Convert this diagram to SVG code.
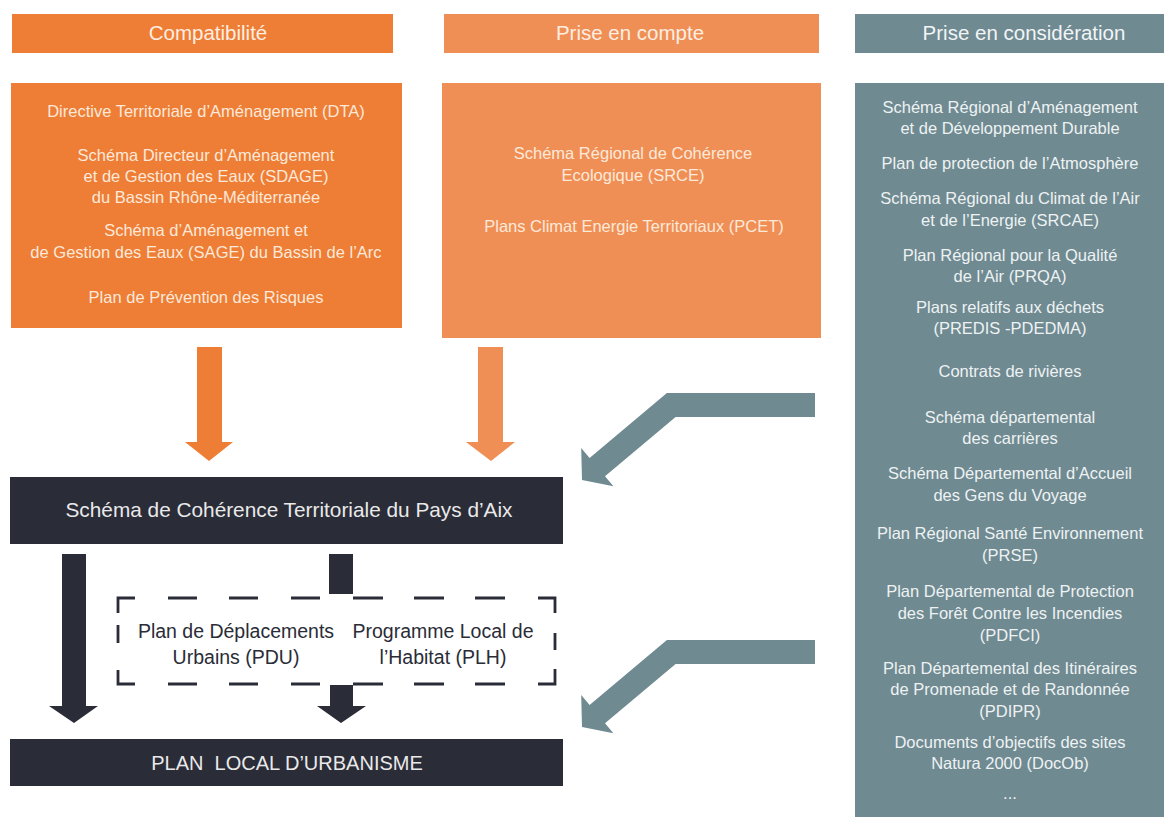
<svg xmlns="http://www.w3.org/2000/svg" width="1164" height="821" viewBox="0 0 1164 821">
<style>
text{font-family:"Liberation Sans",Arial,sans-serif;text-anchor:middle}
.o1{fill:#ee7d35}
.o2{fill:#f08f55}
.gr{fill:#6f8a91}
.dk{fill:#2a2c37}
.hd{font-size:20.5px;fill:#fdeee2}
.hdg{font-size:20.5px;fill:#f2f5f6}
.bt{font-size:16.5px;fill:#fde9da}
.gt{font-size:16.5px;fill:#eef2f3}
.dt{font-size:20.8px;fill:#e9e9ea}
.pl{font-size:20px;fill:#e9e9ea}
.pt{font-size:19.5px;fill:#2a2c37}
.dash{stroke:#2a2c37;stroke-width:2.8;fill:none}
</style>
<rect width="1164" height="821" fill="#ffffff"/>

<g id="hdr-compat">
<rect class="o1" x="12" y="14" width="381" height="39"/>
<text class="hd" x="208" y="40">Compatibilité</text>
</g>
<g id="hdr-prise">
<rect class="o2" x="444" y="14" width="375" height="39"/>
<text class="hd" x="630" y="40">Prise en compte</text>
</g>
<g id="hdr-consid">
<rect class="gr" x="855" y="14" width="309" height="39"/>
<text class="hdg" x="1024" y="40">Prise en considération</text>
</g>

<g id="box-compat">
<rect class="o1" x="11" y="83" width="391" height="245"/>
<text class="bt" x="206" y="117">Directive Territoriale d’Aménagement (DTA)</text>
<text class="bt" x="206" y="161">Schéma Directeur d’Aménagement</text>
<text class="bt" x="206" y="182">et de Gestion des Eaux (SDAGE)</text>
<text class="bt" x="206" y="203">du Bassin Rhône-Méditerranée</text>
<text class="bt" x="206" y="236">Schéma d’Aménagement et</text>
<text class="bt" x="206" y="258">de Gestion des Eaux (SAGE) du Bassin de l’Arc</text>
<text class="bt" x="206" y="303">Plan de Prévention des Risques</text>
</g>

<g id="box-prise">
<rect class="o2" x="442" y="83" width="379" height="255"/>
<text class="bt" x="633" y="159">Schéma Régional de Cohérence</text>
<text class="bt" x="633" y="181">Ecologique (SRCE)</text>
<text class="bt" x="634" y="232">Plans Climat Energie Territoriaux (PCET)</text>
</g>

<g id="box-consid">
<rect class="gr" x="855" y="83" width="309" height="734"/>
<text class="gt" x="1010" y="113">Schéma Régional d’Aménagement</text>
<text class="gt" x="1010" y="134">et de Développement Durable</text>
<text class="gt" x="1010" y="169">Plan de protection de l’Atmosphère</text>
<text class="gt" x="1010" y="204">Schéma Régional du Climat de l’Air</text>
<text class="gt" x="1010" y="226">et de l’Energie (SRCAE)</text>
<text class="gt" x="1010" y="261">Plan Régional pour la Qualité</text>
<text class="gt" x="1010" y="282">de l’Air (PRQA)</text>
<text class="gt" x="1010" y="313">Plans relatifs aux déchets</text>
<text class="gt" x="1010" y="334">(PREDIS -PDEDMA)</text>
<text class="gt" x="1010" y="377">Contrats de rivières</text>
<text class="gt" x="1010" y="423">Schéma départemental</text>
<text class="gt" x="1010" y="444">des carrières</text>
<text class="gt" x="1010" y="479">Schéma Départemental d’Accueil</text>
<text class="gt" x="1010" y="501">des Gens du Voyage</text>
<text class="gt" x="1010" y="539">Plan Régional Santé Environnement</text>
<text class="gt" x="1010" y="561">(PRSE)</text>
<text class="gt" x="1010" y="597">Plan Départemental de Protection</text>
<text class="gt" x="1010" y="619">des Forêt Contre les Incendies</text>
<text class="gt" x="1010" y="641">(PDFCI)</text>
<text class="gt" x="1010" y="674">Plan Départemental des Itinéraires</text>
<text class="gt" x="1010" y="695">de Promenade et de Randonnée</text>
<text class="gt" x="1010" y="717">(PDIPR)</text>
<text class="gt" x="1010" y="748">Documents d’objectifs des sites</text>
<text class="gt" x="1010" y="769">Natura 2000 (DocOb)</text>
<text class="gt" x="1010" y="799">...</text>
</g>

<g id="scot">
<rect class="dk" x="10" y="477" width="553" height="67"/>
<text class="dt" x="289" y="517">Schéma de Cohérence Territoriale du Pays d’Aix</text>
</g>

<g id="pdu-plh">
<path class="dash" d="M118,613V598H135M168,598H197M229,598H258M291,598H320M353,598H383M414,598H444M475,598H505M538,598H555V613M555,633V650M555,669V684H538M505,684H475M444,684H414M383,684H353M320,684H291M258,684H229M197,684H168M135,684H118V670M118,643V625"/>
<text class="pt" x="236" y="638">Plan de Déplacements</text>
<text class="pt" x="236" y="664">Urbains (PDU)</text>
<text class="pt" x="443" y="638">Programme Local de</text>
<text class="pt" x="443" y="664">l’Habitat (PLH)</text>
</g>

<g id="plu">
<rect class="dk" x="10" y="739" width="553" height="47"/>
<text class="pl" x="287" y="770" xml:space="preserve">PLAN  LOCAL D’URBANISME</text>
</g>

<g id="connectors">
<polygon class="o1" points="197,347 222,347 222,442 233,442 209,461 185,442 197,442"/>
<polygon class="o2" points="478,347 503,347 503,442 515,442 491,461 466,442 478,442"/>
<polygon class="gr" points="815,393 666.9,393 589.6,457.9 581.2,447.9 582,480 613.4,486.3 605,476.3 675.6,417 815,417"/>
<polygon class="gr" transform="translate(0,247)" points="815,393 666.9,393 589.6,457.9 581.2,447.9 582,480 613.4,486.3 605,476.3 675.6,417 815,417"/>
<polygon class="dk" points="62,554 86,554 86,706 98,706 74,723 49,706 62,706"/>
<rect class="dk" x="329" y="554" width="24" height="40"/>
<polygon class="dk" points="330,685 353,685 353,706 366,706 341,723 317,706 330,706"/>
</g>
</svg>
